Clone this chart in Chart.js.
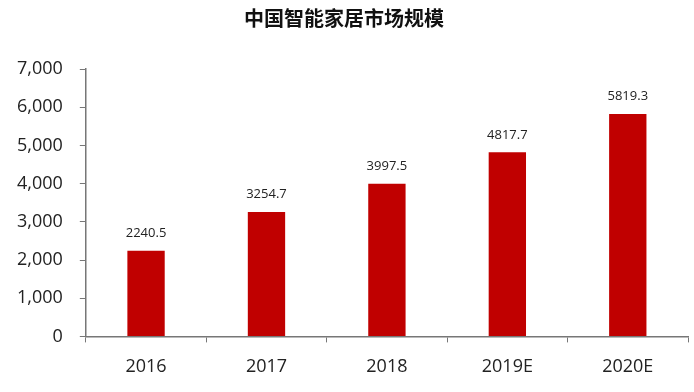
<!DOCTYPE html>
<html><head><meta charset="utf-8">
<script src="https://cdn.jsdelivr.net/npm/chart.js@4/dist/chart.umd.min.js"></script>
<style>html,body{margin:0;padding:0;background:#fff}#wrap{width:694px;height:392px}</style>
</head><body><div id="wrap"><canvas id="c" width="694" height="392"></canvas></div>
<script>
const title = "中国智能家居市场规模";
const categories = ["2016", "2017", "2018", "2019E", "2020E"];
const values = [2240.5, 3254.7, 3997.5, 4817.7, 5819.3];
const yMin = 0, yMax = 7000, yStep = 1000;

const labelPlugin = {
  id: 'barLabels',
  afterDatasetsDraw(chart) {
    const ctx = chart.ctx;
    const meta = chart.getDatasetMeta(0);
    ctx.save();
    ctx.font = '13px "Open Sans", "Noto Sans", sans-serif';
    ctx.fillStyle = '#222';
    ctx.textAlign = 'center';
    ctx.textBaseline = 'bottom';
    meta.data.forEach((bar, i) => {
      ctx.fillText(values[i].toFixed(1), bar.x, bar.y - 11);
    });
    ctx.restore();
  }
};

new Chart(document.getElementById('c'), {
  type: 'bar',
  data: { labels: categories, datasets: [{ data: values, backgroundColor: '#C00000', categoryPercentage: 1, barPercentage: 0.31 }] },
  options: {
    responsive: false, animation: false,
    layout: { padding: { left: 0, right: 6, top: 3, bottom: 0 } },
    plugins: {
      legend: { display: false }, tooltip: { enabled: false },
      title: { display: true, text: title, color: '#111', font: { family: '"Noto Sans CJK SC", sans-serif', size: 20, weight: 'bold' }, padding: { top: 3, bottom: 39 } }
    },
    scales: {
      x: {
        grid: { drawOnChartArea: false, tickLength: 6, color: '#777', offset: true },
        border: { color: '#777', width: 1.5 },
        ticks: { color: '#222', font: { family: '"Open Sans", sans-serif', size: 18 }, padding: 14 }
      },
      y: {
        min: yMin, max: yMax,
        grid: { drawOnChartArea: false, tickLength: 6, color: '#777' },
        border: { color: '#777', width: 1.5 },
        ticks: { stepSize: yStep, color: '#222', font: { family: '"Open Sans", sans-serif', size: 18 }, padding: 17,
          callback: v => v.toLocaleString('en-US') }
      }
    }
  },
  plugins: [labelPlugin]
});
</script></body></html>
